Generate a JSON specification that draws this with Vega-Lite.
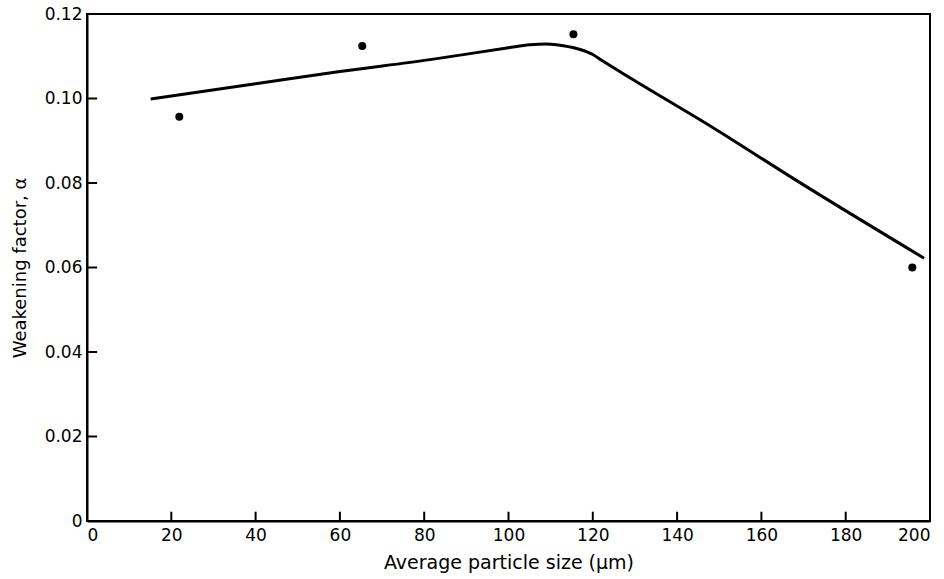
{
  "$schema": "https://vega.github.io/schema/vega-lite/v6.json",
  "autosize": "none",
  "width": 843,
  "height": 507,
  "padding": {"left": 87, "top": 14, "right": 14, "bottom": 58},
  "background": "white",
  "config": {
    "view": {"stroke": "black", "strokeWidth": 2},
    "font": "DejaVu Sans",
    "axis": {
      "grid": false,
      "domainColor": "black",
      "domainWidth": 2,
      "ticks": false,
      "labelColor": "black",
      "titleColor": "black",
      "labelFontSize": 17,
      "titleFontSize": 18,
      "titleFontWeight": "normal",
      "labelFont": "DejaVu Sans",
      "titleFont": "DejaVu Sans"
    }
  },
  "datasets": {
    "points": [
      {"size": 21.9, "alpha": 0.0957},
      {"size": 65.3, "alpha": 0.1124},
      {"size": 115.4, "alpha": 0.1152},
      {"size": 195.8, "alpha": 0.0600}
    ],
    "curve": [
      {"size": 15.1, "alpha": 0.0999},
      {"size": 40, "alpha": 0.1035},
      {"size": 60, "alpha": 0.1064},
      {"size": 81.4, "alpha": 0.1092},
      {"size": 100, "alpha": 0.1120},
      {"size": 105, "alpha": 0.1127},
      {"size": 109, "alpha": 0.1129},
      {"size": 113, "alpha": 0.1125},
      {"size": 117, "alpha": 0.1116},
      {"size": 120, "alpha": 0.1104},
      {"size": 122, "alpha": 0.1091},
      {"size": 129, "alpha": 0.1048},
      {"size": 149, "alpha": 0.0928},
      {"size": 168, "alpha": 0.0808},
      {"size": 198.6, "alpha": 0.0622}
    ],
    "xticks": [
      {"v": 20}, {"v": 40}, {"v": 60}, {"v": 80}, {"v": 100},
      {"v": 120}, {"v": 140}, {"v": 160}, {"v": 180}
    ],
    "yticks": [
      {"v": 0.02}, {"v": 0.04}, {"v": 0.06}, {"v": 0.08}, {"v": 0.10}
    ]
  },
  "layer": [
    {
      "data": {"name": "curve"},
      "mark": {"type": "line", "color": "black", "strokeWidth": 3, "interpolate": "monotone"},
      "encoding": {
        "x": {
          "field": "size", "type": "quantitative",
          "scale": {"domain": [0, 200], "nice": false},
          "axis": {"values": [0, 20, 40, 60, 80, 100, 120, 140, 160, 180, 200], "title": "Average particle size (μm)", "labelPadding": 6, "titlePadding": 10, "titleFontSize": 19}
        },
        "y": {
          "field": "alpha", "type": "quantitative",
          "scale": {"domain": [0, 0.12], "nice": false},
          "axis": {"values": [0, 0.02, 0.04, 0.06, 0.08, 0.1, 0.12], "format": ".2f", "labelExpr": "datum.value == 0 ? '0' : datum.label", "title": "Weakening factor, α", "labelPadding": 5, "titlePadding": 15}
        }
      }
    },
    {
      "data": {"name": "xticks"},
      "mark": {"type": "rule", "color": "black", "strokeWidth": 2},
      "encoding": {
        "x": {"field": "v", "type": "quantitative"},
        "y": {"datum": 0},
        "y2": {"datum": 0.0022}
      }
    },
    {
      "data": {"name": "yticks"},
      "mark": {"type": "rule", "color": "black", "strokeWidth": 2},
      "encoding": {
        "y": {"field": "v", "type": "quantitative"},
        "x": {"datum": 0},
        "x2": {"datum": 2.4}
      }
    },
    {
      "data": {"name": "points"},
      "mark": {"type": "point", "filled": true, "color": "black", "opacity": 1, "size": 64},
      "encoding": {
        "x": {"field": "size", "type": "quantitative"},
        "y": {"field": "alpha", "type": "quantitative"}
      }
    }
  ]
}
